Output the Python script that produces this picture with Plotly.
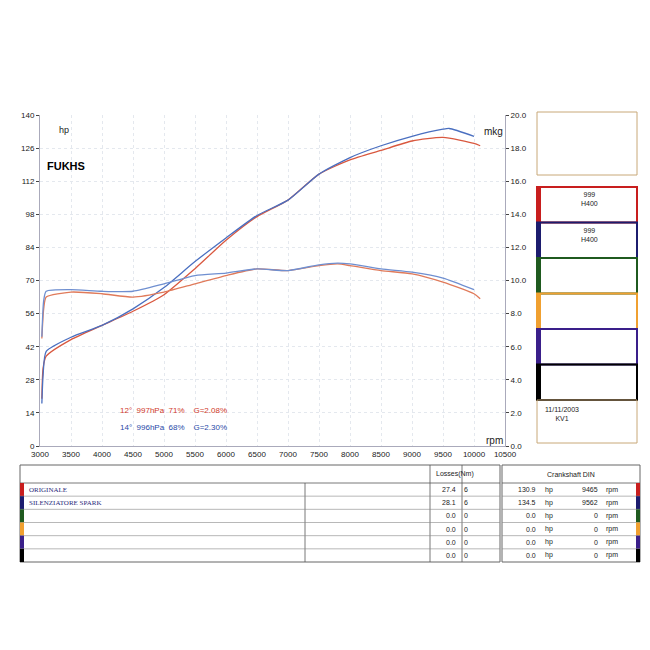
import plotly.graph_objects as go

rpm_red = [3030, 3050, 3100, 3500, 4000, 4500, 5000, 5500, 6000, 6500, 7000, 7500, 8000, 8500, 9000, 9500, 10000, 10100]
hp_red = [20, 33, 38, 45, 51, 57, 64, 75, 87, 97, 104, 115, 121, 125, 129, 130.5, 128, 127]
rpm_blue = [3030, 3050, 3100, 3500, 4000, 4500, 5000, 5500, 6000, 6500, 7000, 7500, 8000, 8500, 9000, 9500, 9600, 10000]
hp_blue = [18, 30, 40, 46, 51, 58, 67, 78, 88, 97.5, 104, 115, 122, 127, 131, 134, 134.3, 131]
trq_rpm_red = [3030, 3060, 3100, 3500, 4000, 4500, 5000, 5500, 6000, 6500, 7000, 7500, 7800, 8000, 8500, 9000, 9500, 10000, 10100]
mkg_red = [6.5, 8.3, 9.0, 9.3, 9.2, 9.0, 9.3, 9.8, 10.3, 10.7, 10.6, 10.9, 11.0, 10.9, 10.6, 10.4, 9.9, 9.2, 8.9]
trq_rpm_blue = [3030, 3060, 3100, 3500, 4000, 4500, 5000, 5500, 6000, 6500, 7000, 7500, 7800, 8000, 8500, 9000, 9500, 10000]
mkg_blue = [6.6, 8.8, 9.35, 9.45, 9.35, 9.35, 9.8, 10.3, 10.45, 10.7, 10.6, 10.95, 11.05, 11.0, 10.7, 10.5, 10.15, 9.45]

hp_ticks = [0, 14, 28, 42, 56, 70, 84, 98, 112, 126, 140]
mkg_ticks = [0, 2, 4, 6, 8, 10, 12, 14, 16, 18, 20]
rpm_ticks = list(range(3000, 10501, 500))

rows = ["ORIGINALE", "SILENZIATORE SPARK", "", "", "", ""]
losses = ["27.4", "28.1", "0.0", "0.0", "0.0", "0.0"]
gears = ["6", "6", "0", "0", "0", "0"]
peak_hp = ["130.9", "134.5", "0.0", "0.0", "0.0", "0.0"]
peak_rpm = ["9465", "9562", "0", "0", "0", "0"]
row_colors = ["#c81e1e", "#1c1c6e", "#1f5a1f", "#f0a030", "#3a1f8a", "#000000"]
box_labels = ["999<br>H400", "999<br>H400", "", "", "", ""]

RED = "#d9583f"
BLUE = "#4a6fc0"

OFF = 8  # page body margin
L, R, T, B = 40, 505, 115, 446
def px(x): return (x - L) / (R - L)
def py(y): return (B - y) / (B - T)

fig = go.Figure()
fig.add_trace(go.Scatter(x=rpm_red, y=hp_red, mode="lines", line=dict(color=RED, width=1.3, shape="spline", smoothing=0.6), showlegend=False))
fig.add_trace(go.Scatter(x=rpm_blue, y=hp_blue, mode="lines", line=dict(color=BLUE, width=1.3, shape="spline", smoothing=0.6), showlegend=False))
fig.add_trace(go.Scatter(x=trq_rpm_red, y=mkg_red, mode="lines", yaxis="y2", line=dict(color="#e07a5a", width=1.3, shape="spline", smoothing=0.6), showlegend=False))
fig.add_trace(go.Scatter(x=trq_rpm_blue, y=mkg_blue, mode="lines", yaxis="y2", line=dict(color="#6f8fd0", width=1.3, shape="spline", smoothing=0.6), showlegend=False))

shapes = []
ann = []
def rect(x0, y0, x1, y1, color, w=1, fill=None):
    shapes.append(dict(type="rect", xref="paper", yref="paper", x0=px(x0), x1=px(x1), y0=py(y1), y1=py(y0),
                       line=dict(color=color, width=w), fillcolor=fill or "rgba(0,0,0,0)", layer="above"))
def line(x0, y0, x1, y1, color="#555", w=0.8):
    shapes.append(dict(type="line", xref="paper", yref="paper", x0=px(x0), x1=px(x1), y0=py(y0), y1=py(y1),
                       line=dict(color=color, width=w)))
def text(x, y, s, size=8, color="#222", xa="left", family="Liberation Sans", bold=False):
    ann.append(dict(xref="paper", yref="paper", x=px(x), y=py(y), text=f"<b>{s}</b>" if bold else s, showarrow=False,
                    xanchor=xa, yanchor="middle", font=dict(size=size, color=color, family=family)))

# right panel
rect(537, 112, 637, 175, "#c8a878")
top = 187
for i, c in enumerate(row_colors):
    y0 = top + i * 35.5
    rect(537, y0, 637, y0 + 35.5, c, 2)
    rect(537, y0, 541, y0 + 35.5, c, 0, fill=c)
    if box_labels[i]:
        text(589, y0 + 12, box_labels[i], size=7, xa="center")
rect(537, 400, 637, 443, "#c8a878")
text(543, 414, "11/11/2003<br>KV1", size=7)

# texts in plot
text(505, 131, "mkg", size=10, xa="right")
text(505, 440, "rpm", size=10, xa="right")
text(64, 130, "hp", size=9, xa="center")
text(66, 166, "FUKHS", size=11, xa="center", color="#000", bold=True)
text(118, 410, "12°  997hPa  71%    G=2.08%", size=8, color="#d03a2a")
text(118, 427, "14°  996hPa  68%    G=2.30%", size=8, color="#2a4aa8")

# table
rect(20, 465, 500, 562, "#666")
line(20, 483, 500, 483)
line(305, 483, 305, 562)
line(430, 465, 430, 483)
line(430, 483, 430, 562)
line(462, 465, 462, 562)
text(455, 474, "Losses(Nm)", size=7, xa="center")
rect(502, 465, 640, 562, "#666")
line(502, 483, 640, 483)
text(571, 474, "Crankshaft DIN", size=7, xa="center")
rh = 79 / 6
for i in range(6):
    y0 = 483 + i * rh
    yc = y0 + rh / 2
    if i > 0:
        line(20, y0, 500, y0, "#888", 0.6)
        line(502, y0, 640, y0, "#888", 0.6)
    rect(20, y0, 24, y0 + rh, row_colors[i], 0, fill=row_colors[i])
    rect(636, y0, 640, y0 + rh, row_colors[i], 0, fill=row_colors[i])
    text(27, yc, rows[i], size=7, color="#2a2a7a", family="Liberation Serif")
    text(458, yc, losses[i], size=7, xa="right")
    text(466, yc, gears[i], size=7, xa="center")
    text(538, yc, peak_hp[i], size=7, xa="right")
    text(543, yc, "hp", size=7)
    text(600, yc, peak_rpm[i], size=7, xa="right")
    text(604, yc, "rpm", size=7)

grid = dict(showgrid=True, gridcolor="#e4e8ee", griddash="dot", gridwidth=1)
fig.update_layout(
    width=650, height=650, paper_bgcolor="white", plot_bgcolor="white",
    margin=dict(l=L - OFF, r=650 - (R - L) - (L - OFF), t=T - OFF, b=650 - (B - T) - (T - OFF)), autosize=False,
    font=dict(family="Liberation Sans", size=8, color="#222"),
    xaxis=dict(range=[3000, 10500], tickvals=rpm_ticks, ticktext=[str(v) for v in rpm_ticks], ticks="", showline=True,
               linecolor="#aab", zeroline=False, automargin=False, **grid),
    yaxis=dict(range=[0, 140], tickvals=hp_ticks, ticks="outside", ticklen=3, showline=True, linecolor="#aab",
               zeroline=False, automargin=False, **grid),
    yaxis2=dict(range=[0, 20], tickvals=mkg_ticks, ticktext=[f"{v:.1f}" for v in mkg_ticks], overlaying="y", side="right",
                ticks="outside", ticklen=3, showline=True, linecolor="#aab", showgrid=False, zeroline=False, automargin=False),
    shapes=shapes, annotations=ann,
)
fig.write_html("out.html")
